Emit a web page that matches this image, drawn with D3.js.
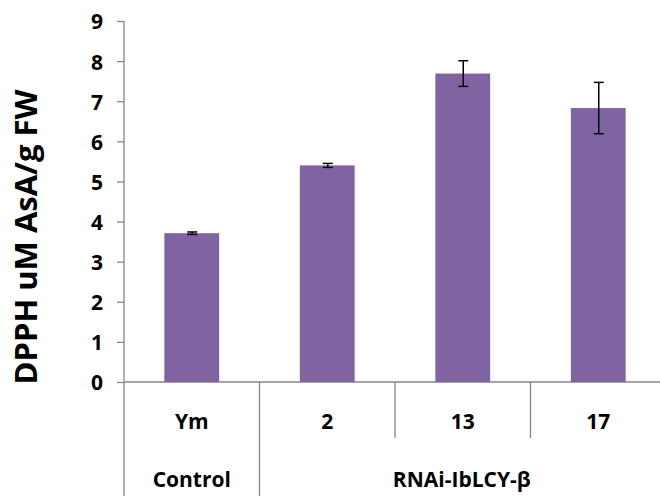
<!DOCTYPE html>
<html>
<head>
<meta charset="utf-8">
<script src="https://cdn.jsdelivr.net/npm/d3@7"></script>
<style>
  body { margin: 0; background: #fff; }
  svg text { font-family: "Open Sans", "DejaVu Sans", sans-serif; font-weight: bold; fill: #000; }
</style>
</head>
<body>
<div id="cont"></div>
<script>
var categories = ["Ym", "2", "13", "17"];
var values = [3.71, 5.40, 7.69, 6.83];
var errors = [0.03, 0.05, 0.32, 0.64];
var groups = [
  { name: "Control", from: 0, to: 1 },
  { name: "RNAi-IbLCY-\u03b2", from: 1, to: 4 }
];
var yTicks = [0, 1, 2, 3, 4, 5, 6, 7, 8, 9];

var W = 660, H = 496;
var plotLeft = 124, plotTop = 21, plotBottom = 382, plotRight = 666;

var svg = d3.select("#cont").append("svg")
  .attr("width", W).attr("height", H);

var xScale = d3.scaleBand().domain(categories).range([plotLeft, plotRight]).paddingInner(0.595).paddingOuter(0.3),
  yScale = d3.scaleLinear().domain([0, 9]).range([plotBottom, plotTop]);

var axisColor = "#868686";

// y axis
var yAxis = svg.append("g")
  .attr("transform", "translate(" + plotLeft + ",0)")
  .call(d3.axisLeft(yScale).tickValues(yTicks).tickSize(7).tickPadding(14));
yAxis.select(".domain").remove();
yAxis.selectAll("line").attr("stroke", axisColor).attr("stroke-width", 1.3);
yAxis.selectAll("text").style("font-size", "21px").attr("fill", "#000").attr("dy", "0.38em");

svg.append("line")
  .attr("x1", plotLeft).attr("x2", plotLeft)
  .attr("y1", yScale(9)).attr("y2", H)
  .attr("stroke", axisColor).attr("stroke-width", 1.3);

// x axis base line
svg.append("line")
  .attr("x1", plotLeft).attr("x2", plotRight)
  .attr("y1", plotBottom).attr("y2", plotBottom)
  .attr("stroke", axisColor).attr("stroke-width", 1.3);

// category separators
var bandStart = function(i) { return plotLeft + (plotRight - plotLeft) * i / categories.length; };
for (var i = 1; i < categories.length; i++) {
  var isGroupEdge = groups.some(function(g) { return g.from == i; });
  svg.append("line")
    .attr("x1", bandStart(i)).attr("x2", bandStart(i))
    .attr("y1", plotBottom).attr("y2", isGroupEdge ? H : 438)
    .attr("stroke", axisColor).attr("stroke-width", 1.3);
}

// category labels
categories.forEach(function(c, i) {
  svg.append("text")
    .attr("x", (bandStart(i) + bandStart(i + 1)) / 2)
    .attr("y", 429)
    .attr("text-anchor", "middle")
    .style("font-size", "21px")
    .text(c);
});

// group labels
groups.forEach(function(g) {
  svg.append("text")
    .attr("x", (bandStart(g.from) + bandStart(g.to)) / 2 - (g.to == 4 ? 1 : 0))
    .attr("y", 487)
    .attr("text-anchor", "middle")
    .style("font-size", "21px")
    .text(g.name);
});

// bars
svg.selectAll(".bar")
  .data(values)
  .enter().append("rect")
  .attr("class", "bar")
  .attr("x", function(d, i) { return (bandStart(i) + bandStart(i + 1)) / 2 - xScale.bandwidth() / 2; })
  .attr("y", function(d) { return yScale(d); })
  .attr("width", xScale.bandwidth())
  .attr("height", function(d) { return plotBottom - yScale(d); })
  .attr("fill", "#8064A2");

// error bars
var eb = svg.selectAll(".err")
  .data(values)
  .enter().append("g")
  .attr("class", "err")
  .attr("stroke", "#000")
  .attr("stroke-width", 1.5);

eb.each(function(d, i) {
  var cx = (bandStart(i) + bandStart(i + 1)) / 2 + 0.5;
  var g = d3.select(this);
  var y1 = yScale(d + errors[i]), y2 = yScale(d - errors[i]);
  g.append("line").attr("x1", cx).attr("x2", cx).attr("y1", y1).attr("y2", y2);
  g.append("line").attr("x1", cx - 5).attr("x2", cx + 5).attr("y1", y1).attr("y2", y1);
  g.append("line").attr("x1", cx - 5).attr("x2", cx + 5).attr("y1", y2).attr("y2", y2);
});

// y title
svg.append("text")
  .attr("transform", "translate(37," + 237 + ") rotate(-90)")
  .attr("text-anchor", "middle")
  .style("font-size", "31px")
  .text("DPPH uM AsA/g FW");
</script>
</body>
</html>
